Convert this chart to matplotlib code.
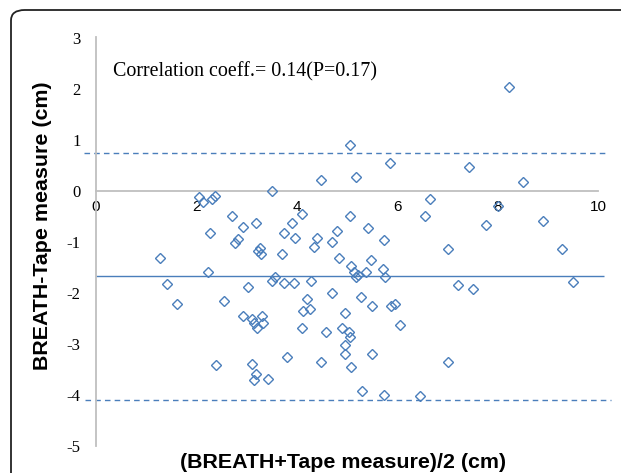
import matplotlib
matplotlib.use("Agg")
import matplotlib.pyplot as plt
from matplotlib.patches import FancyBboxPatch

# Bland-Altman data: mean of two methods (x) vs difference (y)
mean_vals = [8.23, 5.05, 5.85, 7.44, 4.49, 5.18, 8.51, 3.51, 2.06, 2.14,
             2.32, 2.37, 6.66, 8.01, 4.11, 2.70, 5.05, 6.56, 3.19, 3.90,
             8.91, 2.92, 2.28, 5.41, 7.76, 4.81, 3.74, 2.83, 2.76, 3.97,
             4.41, 5.74, 4.70, 4.35, 3.26, 3.23, 3.29, 7.01, 9.28, 3.70,
             1.28, 4.84, 5.48, 5.07, 5.72, 2.24, 5.13, 5.38, 5.17, 5.22,
             3.56, 3.51, 5.75, 3.74, 3.94, 4.29, 1.41, 9.51, 7.21, 7.51,
             3.03, 4.70, 5.27, 4.20, 2.55, 1.62, 5.50, 5.87, 5.95, 4.12,
             4.27, 4.96, 2.92, 3.10, 3.30, 3.14, 3.32, 3.21, 6.06, 4.11,
             4.91, 5.03, 4.59, 5.06, 4.96, 4.96, 5.50, 3.81, 4.49, 7.01,
             2.39, 3.10, 5.07, 3.18, 3.14, 3.43, 5.30, 5.74, 6.46]
diff_vals = [2.03, 0.90, 0.53, 0.46, 0.20, 0.27, 0.17, 0.00, -0.13, -0.23,
             -0.17, -0.10, -0.17, -0.30, -0.46, -0.50, -0.50, -0.50, -0.63, -0.63,
             -0.60, -0.71, -0.84, -0.74, -0.67, -0.79, -0.83, -0.95, -1.03, -0.94,
             -0.94, -0.97, -1.00, -1.11, -1.13, -1.18, -1.25, -1.14, -1.14, -1.24,
             -1.33, -1.33, -1.37, -1.49, -1.53, -1.60, -1.60, -1.60, -1.69, -1.65,
             -1.69, -1.77, -1.70, -1.81, -1.81, -1.77, -1.83, -1.80, -1.86, -1.94,
             -1.90, -2.01, -2.09, -2.13, -2.17, -2.23, -2.27, -2.27, -2.22, -2.37,
             -2.33, -2.41, -2.46, -2.52, -2.46, -2.59, -2.60, -2.69, -2.63, -2.70,
             -2.70, -2.77, -2.77, -2.88, -3.03, -3.20, -3.20, -3.27, -3.37, -3.37,
             -3.43, -3.41, -3.47, -3.60, -3.71, -3.70, -3.94, -4.00, -4.03]

mean_diff = -1.68
upper_loa = 0.74
lower_loa = -4.10
x_ticks = [0, 2, 4, 6, 8, 10]
y_ticks = [-5, -4, -3, -2, -1, 0, 1, 2, 3]
annotation = "Correlation coeff.= 0.14(P=0.17)"

W, H = 621, 473
fig = plt.figure(figsize=(W / 100, H / 100), dpi=100)
fig.patch.set_facecolor("white")

# rounded frame
frame = FancyBboxPatch((11 / W, -0.2), 1.5, 1.2 - 10 / H,
                       boxstyle="round,pad=0,rounding_size=0.022",
                       transform=fig.transFigure, fill=False,
                       edgecolor="#222222", linewidth=1.3, clip_on=False)
fig.patches.append(frame)

ax = fig.add_axes([96 / W, 1 - 445.5 / H, (598 - 96) / W, (445.5 - 37.5) / H])
ax.set_xlim(0, 10)
ax.set_ylim(-5, 3)

blue = "#4a7ebb"
gray = "#bfbfbf"

ax.spines["top"].set_visible(False)
ax.spines["right"].set_visible(False)
ax.spines["left"].set_color(gray)
ax.spines["left"].set_linewidth(1.3)
ax.spines["bottom"].set_position(("data", 0))
ax.spines["bottom"].set_color(gray)
ax.spines["bottom"].set_linewidth(1.3)

ax.set_xticks(x_ticks)
ax.set_yticks(y_ticks)
ax.set_yticklabels([str(v) for v in y_ticks], family="Liberation Serif", fontsize=12)
ax.set_xticklabels([str(v) for v in x_ticks], family="Liberation Sans", fontsize=11)
ax.tick_params(axis="both", length=0)
ax.tick_params(axis="y", pad=11)
ax.tick_params(axis="x", pad=7)

ax.hlines(upper_loa, -0.24, 10.15, colors=blue, linestyles=(0, (4, 3)), linewidth=1.0, clip_on=False)
ax.hlines(lower_loa, -0.22, 10.25, colors=blue, linestyles=(0, (4, 3)), linewidth=1.0, clip_on=False)
ax.hlines(mean_diff, 0, 10.12, colors=blue, linestyles="-", linewidth=1.0, clip_on=False)

ax.plot(mean_vals, diff_vals, linestyle="none", marker="D", markersize=5,
        markerfacecolor="none", markeredgecolor=blue, markeredgewidth=1.0,
        clip_on=False, zorder=3)

fig.text(113 / W, 1 - 72 / H, annotation, family="Liberation Serif", fontsize=14.4,
         ha="left", va="center")
fig.text(43 / W, 1 - 226 / H, "BREATH-Tape measure (cm)", family="Liberation Sans",
         fontweight="bold", fontsize=15.4, rotation=90, ha="center", va="center")
fig.text(343.5 / W, 1 - 462 / H, "(BREATH+Tape measure)/2 (cm)", family="Liberation Sans",
         fontweight="bold", fontsize=15.4, ha="center", va="center")

fig.savefig("out.png", dpi=100)
